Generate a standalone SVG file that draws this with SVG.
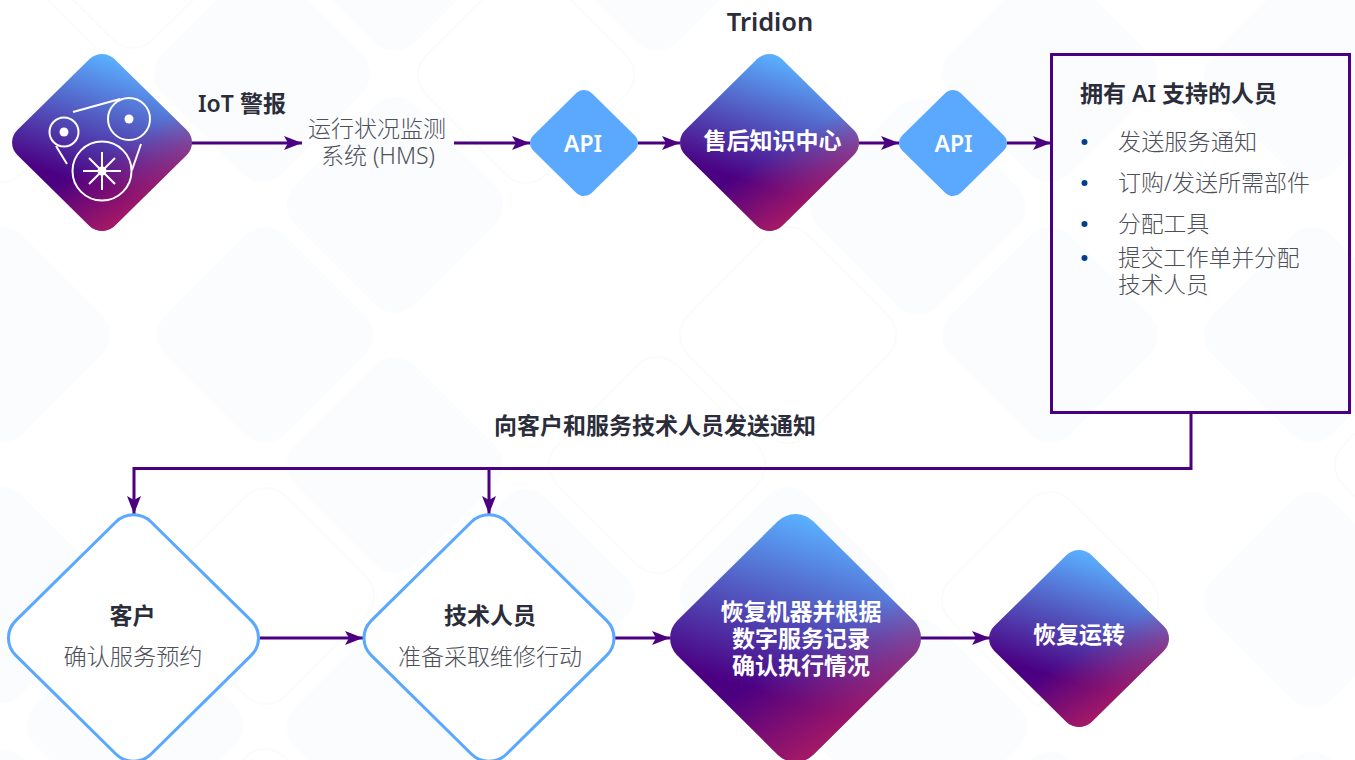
<svg xmlns="http://www.w3.org/2000/svg" width="1355" height="760" viewBox="0 0 1355 760">
<style>
text{font-family:"Noto Sans","Noto Sans CJK SC",sans-serif;font-size:23px}
.m{text-anchor:middle}
.b{font-weight:600;fill:#2b2d3a}
.r{fill:#4e5059;font-weight:300}
.w{font-weight:600;fill:#fff}
.c{stroke:#4b0082;stroke-width:3;fill:none;marker-end:url(#a)}
.f{fill:#fbfcfe}
.o{fill:none;stroke:#fafbfb;stroke-width:2}
.ic{fill:none;stroke:#fff;stroke-width:2}
</style>
<defs>
<marker id="a" markerUnits="userSpaceOnUse" markerWidth="18" markerHeight="14" refX="18" refY="7" orient="auto"><path d="M0 0L18 7L0 14L4 7Z" fill="#4b0082"/></marker>
<linearGradient id="g" x1="0.5" y1="0" x2="0.28" y2="0.69"><stop offset="0" stop-color="#5ab0ff"/><stop offset="1" stop-color="#4b0082"/></linearGradient>
<linearGradient id="h" x1="0.534" y1="0.554" x2="0.774" y2="0.936"><stop offset="0" stop-color="#b81e60" stop-opacity="0"/><stop offset="1" stop-color="#b81e60"/></linearGradient>
<path id="d" d="M-19.8 -99.8A28 28 0 0 1 19.8 -99.8L99.8 -19.8A28 28 0 0 1 99.8 19.8L19.8 99.8A28 28 0 0 1 -19.8 99.8L-99.8 19.8A28 28 0 0 1 -99.8 -19.8Z"/>
<path id="s" d="M-12.7 -84.7A18 18 0 0 1 12.7 -84.7L84.7 -12.7A18 18 0 0 1 84.7 12.7L12.7 84.7A18 18 0 0 1 -12.7 84.7L-84.7 12.7A18 18 0 0 1 -84.7 -12.7Z"/>
<g id="gd"><use href="#s" fill="url(#g)"/><use href="#s" fill="url(#h)"/></g>
</defs>
<rect width="1355" height="760" fill="#fff"/>
<g id="bg">
<use href="#d" class="f" x="395" y="-57"/><use href="#d" class="f" x="657" y="-57"/>
<use href="#d" class="f" x="262" y="74"/><use href="#d" class="f" x="1050" y="74"/><use href="#d" class="f" x="1312" y="74"/>
<use href="#d" class="f" x="395" y="205"/><use href="#d" class="f" x="918" y="207"/>
<use href="#d" class="f" x="2" y="335"/><use href="#d" class="f" x="265" y="335"/><use href="#d" class="f" x="1050" y="335"/><use href="#d" class="f" x="1312" y="335"/>
<use href="#d" class="f" x="395" y="465"/>
<use href="#d" class="f" x="2" y="595"/><use href="#d" class="f" x="526" y="597"/><use href="#d" class="f" x="788" y="595"/><use href="#d" class="f" x="1312" y="600"/>
<use href="#d" class="f" x="135" y="725"/><use href="#d" class="f" x="395" y="727"/><use href="#d" class="f" x="919" y="727"/>
<use href="#d" class="f" x="2" y="857"/><use href="#d" class="f" x="1050" y="860"/><use href="#d" class="f" x="1312" y="860"/>
<use href="#d" class="o" x="133" y="-60"/><use href="#d" class="o" x="2" y="74"/><use href="#d" class="o" x="526" y="75"/><use href="#d" class="o" x="788" y="335"/><use href="#d" class="o" x="657" y="465"/><use href="#d" class="o" x="1443" y="465"/><use href="#d" class="o" x="266" y="596"/><use href="#d" class="o" x="1050" y="600"/><use href="#d" class="o" x="265" y="857"/>
</g>
<g id="connectors">
<path class="c" d="M191 143H302"/>
<path class="c" d="M454 143H530"/>
<path class="c" d="M638 143H680"/>
<path class="c" d="M859 143H899"/>
<path class="c" d="M1007 143H1051"/>
<path class="c" d="M1191 413V468.500H134V514"/>
<path class="c" d="M489 468V514"/>
<path class="c" d="M260 638H363"/>
<path class="c" d="M615 638H670"/>
<path class="c" d="M920 638H990"/>
</g>
<text class="b m" x="770" y="31" style="font-size:25.500px">Tridion</text>
<g id="n-iot">
<use href="#gd" transform="translate(102 142.500) scale(1 .983)"/>
<g class="ic"><circle cx="64" cy="132" r="14.500"/><circle cx="129" cy="119" r="21"/><circle cx="102" cy="171" r="29.500"/><path d="M73 112L120 99M56 146L67 164M141 144L132 170M83 171H121M102 152V190M89 158L115 184M115 158L89 184"/></g>
<circle cx="64" cy="132" r="4.500" fill="#fff"/><circle cx="129" cy="119" r="4.500" fill="#fff"/><circle cx="102" cy="171" r="4.500" fill="#fff"/>
</g>
<text class="b m" x="242" y="112">IoT 警报</text>
<g id="n-hms"><text class="r m" x="377" y="137">运行状况监测</text><text class="r m" x="378" y="164">系统 (HMS)</text></g>
<g id="n-api1"><use href="#s" fill="#5aa9ff" transform="translate(584 143) scale(.6 .59)"/><text class="w m" x="583" y="152">API</text></g>
<g id="n-hub"><use href="#gd" transform="translate(769.500 142.500) scale(.995 .983)"/><text class="w m" x="772.500" y="149">售后知识中心</text></g>
<g id="n-api2"><use href="#s" fill="#5aa9ff" transform="translate(953 143) scale(.6 .59)"/><text class="w m" x="953.500" y="152">API</text></g>
<g id="n-box"><rect x="1051.500" y="54.500" width="298" height="358" fill="none" stroke="#4b0082" stroke-width="3"/>
<text class="b" x="1080" y="102">拥有 AI 支持的人员</text>
<text class="r" x="1118" y="150" style="font-size:23.200px">发送服务通知</text><text class="r" x="1118" y="191">订购/发送所需部件</text><text class="r" x="1118" y="232" style="font-size:22.800px">分配工具</text><text class="r" x="1118" y="266" style="font-size:22.700px">提交工作单并分配</text><text class="r" x="1118" y="293" style="font-size:22.700px">技术人员</text>
<g fill="#003f8a"><circle cx="1084.500" cy="142" r="3"/><circle cx="1084.500" cy="183" r="3"/><circle cx="1084.500" cy="224" r="3"/><circle cx="1084.500" cy="258" r="3"/></g></g>
<text class="b m" x="655" y="434">向客户和服务技术人员发送通知</text>
<g id="n-cust"><use href="#s" fill="#fff" stroke="#5aa9ff" stroke-width="2.200" transform="translate(133.500 638) scale(1.39 1.37)"/><text class="b m" x="132.500" y="624">客户</text><text class="r m" x="133" y="665" style="font-size:23.200px">确认服务预约</text></g>
<g id="n-tech"><use href="#s" fill="#fff" stroke="#5aa9ff" stroke-width="2.200" transform="translate(489 638) scale(1.39 1.37)"/><text class="b m" x="490" y="624">技术人员</text><text class="r m" x="490" y="665">准备采取维修行动</text></g>
<g id="n-restore"><use href="#gd" transform="translate(795.500 638) scale(1.395 1.378)"/><text class="w m" x="801" y="620">恢复机器并根据</text><text class="w m" x="801" y="647">数字服务记录</text><text class="w m" x="801" y="674">确认执行情况</text></g>
<g id="n-run"><use href="#gd" transform="translate(1079 638.500) scale(1 .983)"/><text class="w m" x="1079" y="643">恢复运转</text></g>
</svg>
